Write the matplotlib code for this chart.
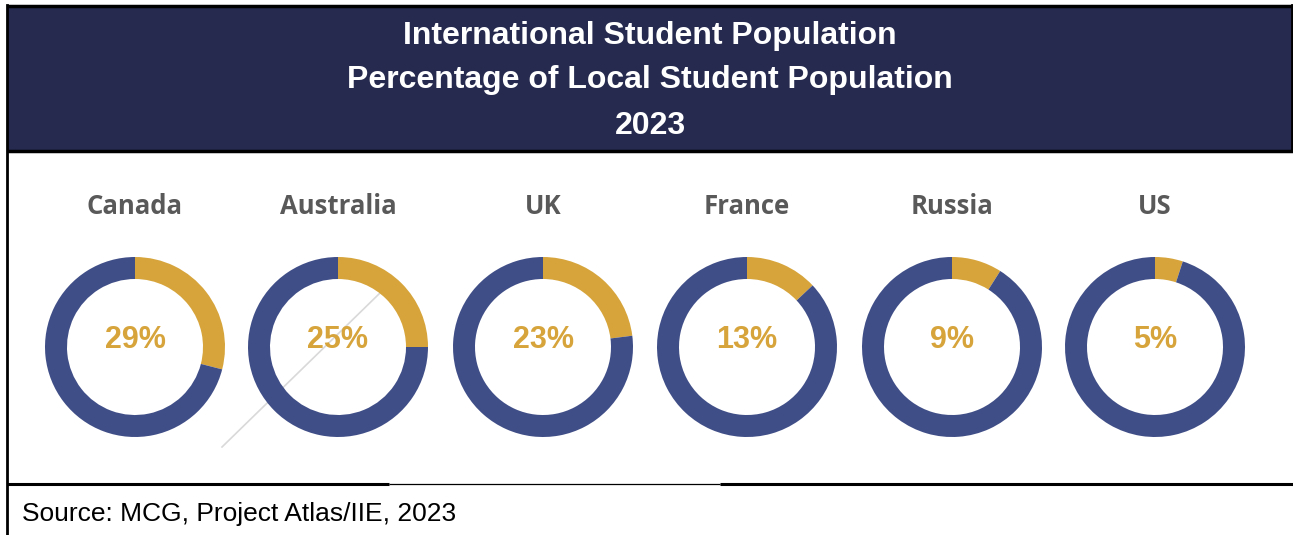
import matplotlib.pyplot as plt
from matplotlib.patches import Rectangle

countries = ['Canada', 'Australia', 'UK', 'France', 'Russia', 'US']
shares = [29, 25, 23, 13, 9, 5]  # international students, % of local student population

title_lines = ['International Student Population',
               'Percentage of Local Student Population',
               '2023']
source = 'Source: MCG, Project Atlas/IIE, 2023'

navy = '#404E87'
gold = '#D6A43B'
header = '#262A4F'
W, H = 1293, 535

fig = plt.figure(figsize=(W / 100, H / 100), dpi=100)
ax = fig.add_axes([0, 0, 1, 1])

# donut rings, one per country
centers_x = [135, 338, 543, 747, 952, 1155]
cy = H - 347
for cx, name, pct in zip(centers_x, countries, shares):
    ax.pie([pct, 100 - pct], colors=[gold, navy], center=(cx, cy), radius=90,
           startangle=90, counterclock=False,
           wedgeprops=dict(width=22, linewidth=0))
    ax.text(cx, H - 340, f'{pct}%', ha='center', va='center', color=gold,
            fontsize=22, fontweight='bold', family='Liberation Sans')
    ax.text(cx, H - 206, name, ha='center', va='center', color='#595959',
            fontsize=18.5, fontweight='bold', family='Open Sans')

# faint stray stroke across the Australia ring
ax.plot([222, 380], [H - 447, H - 293], color='#d9d9d9', lw=1.2, zorder=0)

# header band and frame
ax.add_patch(Rectangle((7, H - 151), W - 7, 144, facecolor=header,
                       edgecolor='none', zorder=3))
for x0, x1, yy, lw in [(7, W, 6, 2.5), (7, W, 151, 2.5),
                       (7, 389, 483.5, 2.2), (389, 720, 484, 0.9),
                       (720, W, 483.5, 2.2)]:
    ax.plot([x0, x1], [H - yy, H - yy], color='black', lw=lw, zorder=4,
            solid_capstyle='butt')
ax.plot([7, 7], [H - 5, 0], color='black', lw=2, zorder=4)
ax.plot([W - 1, W - 1], [H - 5, H - 151], color='black', lw=2, zorder=4)

for yy, line in zip([36, 80, 126], title_lines):
    ax.text(650, H - yy, line, ha='center', va='center', color='white',
            fontsize=23, fontweight='bold', family='Liberation Sans', zorder=5)

ax.text(22, H - 514, source, ha='left', va='center', color='black',
        fontsize=19, family='Liberation Sans')

ax.set_xlim(0, W)
ax.set_ylim(0, H)
ax.set_aspect('equal')
ax.axis('off')

fig.savefig('out.png', dpi=100)
